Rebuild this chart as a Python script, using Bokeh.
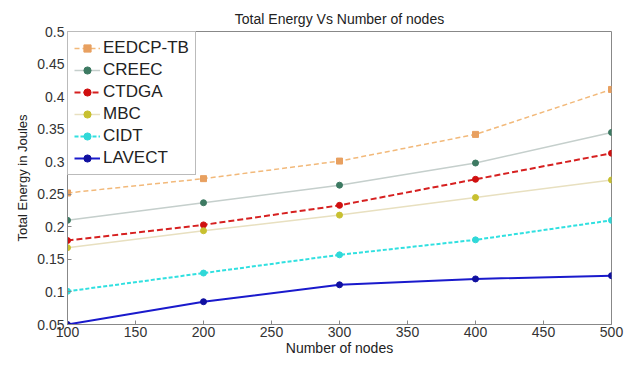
from bokeh.plotting import figure
from bokeh.models import FixedTicker, Range1d, Legend, LegendItem
from bokeh.embed import file_html
from bokeh.resources import INLINE

nodes = [100, 200, 300, 400, 500]
eedcp_tb = [0.252, 0.274, 0.301, 0.342, 0.411]
creec = [0.210, 0.237, 0.264, 0.298, 0.345]
ctdga = [0.179, 0.203, 0.233, 0.273, 0.313]
mbc = [0.168, 0.194, 0.218, 0.245, 0.272]
cidt = [0.101, 0.129, 0.157, 0.180, 0.210]
lavect = [0.050, 0.085, 0.111, 0.120, 0.125]

x_ticks = [100, 150, 200, 250, 300, 350, 400, 450, 500]
y_ticks = [0.05, 0.1, 0.15, 0.2, 0.25, 0.3, 0.35, 0.4, 0.45, 0.5]
y_tick_labels = ["0.05", "0.1", "0.15", "0.2", "0.25", "0.3", "0.35", "0.4", "0.45", "0.5"]

FONT = "Liberation Sans"

p = figure(width=628, height=358, output_backend="svg", toolbar_location=None,
           x_range=Range1d(100, 500), y_range=Range1d(0.05, 0.5),
           min_border_left=67, min_border_right=17, min_border_top=31, min_border_bottom=34)
p.title.text = "Total Energy Vs Number of nodes"
p.title.align = "center"
p.title.text_font = FONT
p.title.text_font_size = "14px"
p.title.text_font_style = "normal"
p.title.text_color = "#222222"
p.xgrid.visible = False
p.ygrid.visible = False
p.outline_line_color = "#888888"
p.outline_line_width = 1

for ax in (p.xaxis[0], p.yaxis[0]):
    ax.major_tick_in = 4
    ax.major_tick_out = 0
    ax.minor_tick_in = 0
    ax.minor_tick_out = 0
    ax.axis_line_color = "#888888"
    ax.major_tick_line_color = "#888888"
    ax.major_label_text_font = FONT
    ax.major_label_text_font_size = "14px"
    ax.major_label_text_color = "#333333"
    ax.axis_label_text_font = FONT
    ax.axis_label_text_font_style = "normal"
    ax.axis_label_text_color = "#222222"

p.xaxis[0].ticker = FixedTicker(ticks=x_ticks)
p.yaxis[0].ticker = FixedTicker(ticks=y_ticks)
p.yaxis[0].major_label_overrides = {t: s for t, s in zip(y_ticks, y_tick_labels)}
p.xaxis[0].axis_label = "Number of nodes"
p.xaxis[0].axis_label_text_font_size = "14px"
p.xaxis[0].axis_label_standoff = 0
p.xaxis[0].major_label_standoff = 2
p.yaxis[0].axis_label = "Total Energy in Joules"
p.yaxis[0].axis_label_text_font_size = "13px"
p.yaxis[0].axis_label_standoff = 4
p.yaxis[0].major_label_standoff = 3

series = [
    ("EEDCP-TB", eedcp_tb, "#f2b97a", "#e8a060", "5 3", "square", 1.5),
    ("CREEC", creec, "#c5cfcc", "#3d7a62", "solid", "circle", 1.5),
    ("CTDGA", ctdga, "#d62020", "#d01010", "6 3", "circle", 2),
    ("MBC", mbc, "#e8e0c0", "#c8c030", "solid", "circle", 1.5),
    ("CIDT", cidt, "#30e0e0", "#30d8d8", "4 2", "circle", 2),
    ("LAVECT", lavect, "#1a1acc", "#1010a0", "solid", "circle", 2),
]

items = []
for name, ys, lc, mc, dash, mk, lw in series:
    r1 = p.line(nodes, ys, line_color=lc, line_width=lw, line_dash=dash)
    r2 = p.scatter(nodes, ys, marker=mk, size=6, fill_color=mc, line_color=mc)
    items.append(LegendItem(label=name, renderers=[r1, r2]))

legend = Legend(items=items, location="top_left")
legend.label_text_font = FONT
legend.label_text_font_size = "17px"
legend.label_text_color = "#222222"
legend.border_line_color = "#777777"
legend.margin = 0
legend.padding = 6
legend.spacing = 2
legend.glyph_width = 26
legend.glyph_height = 18
legend.label_height = 18
legend.label_standoff = 3
legend.background_fill_alpha = 1
p.add_layout(legend)

open("out.html", "w").write(file_html(p, INLINE))
